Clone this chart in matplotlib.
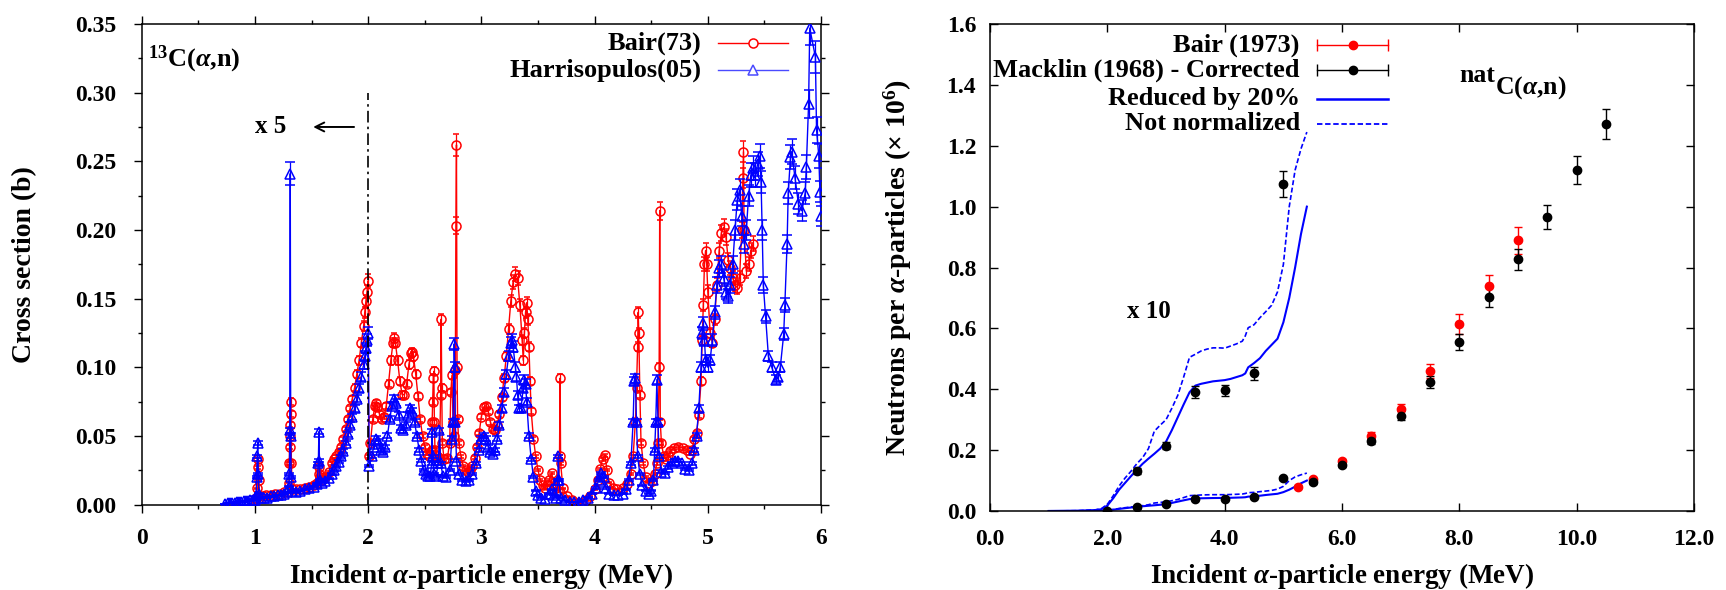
"""13C(a,n) cross section (left) and natC(a,n) neutron yield (right).

Values were read off the published figure by eye. Below 2 MeV the left
panel data are already shown multiplied by 5, as in the original.
"""
import matplotlib
matplotlib.use("Agg")
import matplotlib.pyplot as plt
from matplotlib.ticker import MultipleLocator, FormatStrFormatter

# --- left panel: 13C(a,n) cross section (b) ---------------------------------
bair_e = [
    1.00, 1.01, 1.02, 1.025, 1.03, 1.035, 1.04, 1.07, 1.10, 1.14,
    1.18, 1.22, 1.26, 1.29, 1.30, 1.303, 1.306, 1.309, 1.312, 1.315,
    1.318, 1.322, 1.33, 1.36, 1.40, 1.44, 1.48, 1.52, 1.55, 1.565,
    1.57, 1.575, 1.59, 1.62, 1.65, 1.68, 1.70, 1.72, 1.74, 1.76,
    1.78, 1.80, 1.82, 1.84, 1.86, 1.88, 1.90, 1.92, 1.94, 1.96,
    1.97, 1.98, 1.99, 2.00, 2.005, 2.02, 2.04, 2.06, 2.07, 2.08,
    2.10, 2.12, 2.14, 2.16, 2.18, 2.20, 2.22, 2.23, 2.24, 2.26,
    2.28, 2.30, 2.32, 2.34, 2.36, 2.38, 2.39, 2.40, 2.42, 2.44,
    2.46, 2.48, 2.50, 2.52, 2.54, 2.56, 2.565, 2.57, 2.575, 2.58,
    2.585, 2.59, 2.61, 2.63, 2.64, 2.645, 2.65, 2.655, 2.67, 2.70,
    2.72, 2.73, 2.74, 2.75, 2.76, 2.77, 2.775, 2.78, 2.785, 2.79,
    2.80, 2.82, 2.84, 2.86, 2.88, 2.90, 2.92, 2.94, 2.96, 2.98,
    3.00, 3.02, 3.04, 3.06, 3.08, 3.10, 3.12, 3.14, 3.16, 3.18,
    3.20, 3.22, 3.24, 3.26, 3.28, 3.30, 3.32, 3.34, 3.36, 3.37,
    3.38, 3.39, 3.40, 3.41, 3.42, 3.43, 3.44, 3.46, 3.48, 3.50,
    3.52, 3.54, 3.56, 3.58, 3.60, 3.62, 3.64, 3.66, 3.68, 3.69,
    3.695, 3.70, 3.72, 3.76, 3.80, 3.84, 3.88, 3.92, 3.96, 4.00,
    4.03, 4.05, 4.07, 4.09, 4.11, 4.13, 4.16, 4.20, 4.25, 4.29,
    4.32, 4.34, 4.36, 4.37, 4.38, 4.385, 4.39, 4.40, 4.41, 4.43,
    4.45, 4.48, 4.51, 4.53, 4.55, 4.56, 4.57, 4.575, 4.58, 4.59,
    4.61, 4.63, 4.65, 4.67, 4.70, 4.74, 4.78, 4.82, 4.84, 4.86,
    4.88, 4.90, 4.92, 4.94, 4.95, 4.96, 4.97, 4.98, 4.99, 5.00,
    5.02, 5.04, 5.06, 5.08, 5.10, 5.12, 5.14, 5.16, 5.18, 5.20,
    5.22, 5.24, 5.26, 5.28, 5.30, 5.31, 5.315, 5.32, 5.34, 5.36,
    5.38, 5.40,
]
bair_xs = [
    .004, .005, .012, .033, .027, .018, .006, .006, .007, .007,
    .008, .008, .009, .009, .016, .030, .042, .050, .058, .066,
    .075, .030, .011, .011, .011, .012, .013, .014, .016, .022,
    .027, .020, .018, .020, .024, .030, .033, .035, .038, .042,
    .048, .055, .062, .070, .077, .085, .095, .105, .118, .130,
    .140, .148, .155, .163, .035, .045, .062, .072, .074, .071,
    .066, .062, .064, .072, .088, .105, .118, .121, .118, .105,
    .090, .080, .080, .088, .102, .110, .111, .108, .095, .079,
    .062, .050, .042, .037, .035, .040, .060, .075, .092, .097,
    .060, .040, .035, .034, .080, .135, .085, .045, .033, .034,
    .045, .082, .094, .060, .050, .098, .203, .262, .100, .062,
    .045, .035, .028, .025, .024, .025, .028, .034, .042, .052,
    .064, .071, .072, .068, .060, .055, .054, .058, .066, .078,
    .092, .108, .128, .148, .162, .168, .165, .145, .120, .105,
    .125, .140, .147, .135, .115, .090, .068, .048, .035, .025,
    .018, .014, .012, .014, .018, .023, .016, .012, .010, .035,
    .092, .030, .012, .006, .003, .001, .001, .003, .006, .011,
    .018, .026, .033, .036, .025, .016, .012, .011, .012, .015,
    .022, .035, .060, .085, .115, .140, .125, .080, .045, .030,
    .020, .016, .017, .022, .030, .045, .100, .214, .060, .045,
    .035, .033, .036, .039, .041, .042, .041, .040, .037, .040,
    .048, .052, .065, .090, .120, .145, .175, .185, .175, .155,
    .125, .118, .135, .160, .185, .198, .202, .195, .178, .172,
    .165, .160, .158, .165, .200, .238, .257, .200, .170, .175,
    .185, .190,
]
harr_e = [
    0.74, 0.76, 0.78, 0.80, 0.82, 0.84, 0.86, 0.88, 0.90, 0.92,
    0.94, 0.96, 0.98, 1.00, 1.01, 1.015, 1.02, 1.025, 1.03, 1.035,
    1.05, 1.08, 1.11, 1.14, 1.17, 1.20, 1.23, 1.26, 1.28, 1.30,
    1.305, 1.308, 1.312, 1.316, 1.32, 1.33, 1.36, 1.40, 1.44, 1.48,
    1.52, 1.55, 1.56, 1.565, 1.57, 1.575, 1.59, 1.62, 1.65, 1.68,
    1.70, 1.72, 1.74, 1.76, 1.78, 1.80, 1.82, 1.84, 1.86, 1.88,
    1.90, 1.92, 1.94, 1.96, 1.97, 1.98, 1.99, 2.00, 2.01, 2.03,
    2.05, 2.07, 2.09, 2.11, 2.13, 2.15, 2.17, 2.19, 2.21, 2.23,
    2.25, 2.27, 2.29, 2.31, 2.33, 2.35, 2.37, 2.39, 2.41, 2.43,
    2.45, 2.47, 2.49, 2.51, 2.53, 2.55, 2.56, 2.565, 2.57, 2.58,
    2.60, 2.62, 2.63, 2.64, 2.66, 2.69, 2.72, 2.74, 2.75, 2.76,
    2.765, 2.77, 2.78, 2.80, 2.83, 2.86, 2.89, 2.92, 2.95, 2.98,
    3.00, 3.02, 3.04, 3.06, 3.08, 3.10, 3.12, 3.14, 3.16, 3.18,
    3.20, 3.22, 3.24, 3.26, 3.27, 3.28, 3.30, 3.31, 3.32, 3.33,
    3.35, 3.37, 3.38, 3.39, 3.40, 3.42, 3.44, 3.46, 3.48, 3.50,
    3.53, 3.56, 3.60, 3.62, 3.64, 3.66, 3.675, 3.68, 3.685, 3.70,
    3.74, 3.78, 3.82, 3.86, 3.90, 3.94, 3.98, 4.01, 4.04, 4.06,
    4.08, 4.10, 4.13, 4.17, 4.21, 4.25, 4.28, 4.30, 4.32, 4.34,
    4.35, 4.36, 4.37, 4.38, 4.40, 4.42, 4.45, 4.48, 4.50, 4.52,
    4.53, 4.54, 4.55, 4.56, 4.57, 4.59, 4.62, 4.65, 4.68, 4.71,
    4.74, 4.77, 4.80, 4.83, 4.86, 4.88, 4.90, 4.92, 4.94, 4.95,
    4.96, 4.97, 4.98, 5.00, 5.02, 5.04, 5.06, 5.08, 5.10, 5.12,
    5.14, 5.16, 5.18, 5.20, 5.22, 5.24, 5.26, 5.28, 5.30, 5.32,
    5.34, 5.36, 5.38, 5.40, 5.42, 5.44, 5.46, 5.47, 5.48, 5.49,
    5.51, 5.535, 5.565, 5.60, 5.62, 5.64, 5.67, 5.68, 5.70, 5.71,
    5.73, 5.74, 5.77, 5.80, 5.83, 5.86, 5.87, 5.89, 5.90, 5.95,
    5.96, 5.98, 5.99, 6.00,
]
harr_xs = [
    .0005, .0008, .0010, .0012, .0014, .0016, .0018, .0020, .0022, .0025,
    .0028, .0030, .0033, .0036, .006, .020, .035, .045, .022, .008,
    .005, .005, .005, .006, .006, .007, .007, .008, .009, .013,
    .022, .054, .241, .050, .020, .010, .009, .010, .011, .012,
    .013, .015, .030, .053, .032, .018, .016, .017, .019, .022,
    .025, .028, .031, .035, .039, .045, .051, .058, .064, .070,
    .077, .085, .093, .102, .108, .114, .120, .125, .028, .035,
    .042, .048, .046, .040, .038, .042, .050, .062, .072, .077,
    .074, .065, .056, .054, .058, .065, .070, .068, .060, .050,
    .040, .032, .025, .022, .021, .021, .030, .053, .035, .022,
    .021, .030, .054, .030, .021, .020, .025, .048, .060, .117,
    .100, .060, .032, .022, .018, .017, .018, .022, .030, .040,
    .048, .050, .048, .042, .038, .037, .040, .048, .058, .070,
    .082, .095, .108, .118, .120, .115, .100, .093, .080, .070,
    .070, .085, .091, .088, .075, .050, .033, .020, .010, .007,
    .005, .004, .008, .011, .007, .005, .018, .035, .018, .005,
    .003, .002, .002, .002, .003, .005, .008, .012, .018, .023,
    .020, .012, .008, .007, .007, .008, .011, .018, .030, .060,
    .090, .092, .060, .035, .022, .014, .010, .008, .010, .018,
    .040, .060, .091, .060, .035, .024, .023, .027, .030, .032,
    .032, .030, .026, .025, .030, .040, .050, .070, .100, .125,
    .132, .120, .105, .100, .105, .120, .140, .160, .172, .175,
    .165, .155, .152, .160, .175, .200, .222, .229, .210, .190,
    .200, .225, .240, .245, .240, .248, .254, .235, .200, .160,
    .137, .108, .100, .091, .093, .100, .124, .145, .190, .227,
    .253, .257, .238, .219, .214, .227, .246, .292, .347, .326,
    .273, .254, .228, .210,
]
bair_rel_err = 0.03     # relative error bar size
harr_rel_err = 0.035

# --- right panel: natC(a,n) neutrons per alpha (x 1e6) ----------------------
bair73_e = [5.25, 5.5, 6.0, 6.5, 7.0, 7.5, 8.0, 8.5, 9.0]
bair73_n = [0.080, 0.105, 0.164, 0.247, 0.334, 0.460, 0.613, 0.739, 0.890]
bair73_err = [0.004, 0.005, 0.008, 0.012, 0.017, 0.022, 0.033, 0.037, 0.044]

macklin_e = [2.0, 2.5, 3.0, 3.5, 4.0, 4.5, 5.0, 5.5, 6.0,
             6.5, 7.0, 7.5, 8.0, 8.5, 9.0, 9.5, 10.0, 10.5]
macklin_n = [0.0, 0.0131, 0.0215, 0.0392, 0.0396, 0.0452, 0.1074, 0.095, 0.150,
             0.230, 0.313, 0.424, 0.555, 0.704, 0.827, 0.967, 1.120, 1.272]
macklin_err = [0.0005, 0.001, 0.0012, 0.002, 0.0017, 0.0022, 0.0043, 0.005, 0.007,
               0.010, 0.015, 0.020, 0.025, 0.033, 0.035, 0.040, 0.045, 0.050]

# calculated yields, as drawn in the "x 10" copy
calc_e = [1.0, 1.5, 1.8, 1.9, 2.0, 2.1, 2.2, 2.3, 2.4, 2.5,
          2.6, 2.7, 2.8, 2.9, 3.0, 3.1, 3.2, 3.3, 3.4, 3.5,
          3.6, 3.7, 3.8, 3.9, 4.0, 4.1, 4.2, 4.3, 4.35, 4.4,
          4.5, 4.6, 4.7, 4.8, 4.9, 5.0, 5.1, 5.2, 5.3, 5.4]
reduced_x10 = [0.0, 0.001, 0.003, 0.006, 0.018, 0.042, 0.070, 0.092, 0.114, 0.135,
               0.155, 0.172, 0.188, 0.205, 0.228, 0.266, 0.308, 0.350, 0.390, 0.412,
               0.418, 0.422, 0.426, 0.428, 0.430, 0.434, 0.440, 0.446, 0.452, 0.472,
               0.486, 0.502, 0.526, 0.546, 0.566, 0.620, 0.700, 0.800, 0.910, 1.000]
notnorm_x10 = [0.0, 0.001, 0.004, 0.008, 0.022, 0.050, 0.082, 0.108, 0.130, 0.155,
               0.175, 0.205, 0.262, 0.282, 0.300, 0.338, 0.380, 0.440, 0.505, 0.515,
               0.526, 0.532, 0.536, 0.536, 0.535, 0.542, 0.549, 0.558, 0.575, 0.602,
               0.612, 0.635, 0.655, 0.676, 0.720, 0.810, 1.000, 1.120, 1.190, 1.245]
SCALE = 10


plt.rcParams.update({
    "font.family": ["Liberation Serif", "DejaVu Serif"],
    "font.weight": "bold",
    "axes.labelweight": "bold",
    "mathtext.fontset": "custom",
    "mathtext.rm": "Liberation Serif",
    "mathtext.it": "Liberation Serif:italic",
    "mathtext.bf": "Liberation Serif:bold",
    "axes.linewidth": 1.1,
})

fig = plt.figure(figsize=(17.26, 5.90), dpi=100)
ax1 = fig.add_axes([0.0821, 0.1449, 0.3936, 0.8144])
ax2 = fig.add_axes([0.5736, 0.1339, 0.4079, 0.8254])

# ---- left panel ----
ax1.errorbar(bair_e, bair_xs, yerr=[v * bair_rel_err for v in bair_xs],
             fmt="-o", color="red", mfc="none", ms=6.5, mew=1.1, lw=1.0,
             elinewidth=0.9, capsize=2.5, capthick=0.9, zorder=2)
ax1.errorbar(harr_e, harr_xs, yerr=[v * harr_rel_err for v in harr_xs],
             fmt="-^", color="blue", mfc="none", ms=6.5, mew=1.1, lw=1.0,
             elinewidth=0.9, capsize=3.5, capthick=0.9, zorder=3)

ax1.vlines(2.0, 0, 0.30, colors="black", lw=1.2, linestyles=[(0, (7, 2.5, 1.5, 2.5))], zorder=4)
ax1.annotate("", xy=(1.49, 0.275), xytext=(1.90, 0.275),
             arrowprops=dict(arrowstyle="->", lw=1.4, color="black", mutation_scale=16))
ax1.text(1.135, 0.275, "x 5", fontsize=18, ha="center", va="center")
ax1.text(0.056, 0.319, r"$^{13}$C($\alpha$,n)", fontsize=19, va="baseline")

ax1.set_xlim(0, 6)
ax1.set_ylim(0, 0.35)
ax1.xaxis.set_major_locator(MultipleLocator(1))
ax1.xaxis.set_minor_locator(MultipleLocator(0.5))
ax1.yaxis.set_major_locator(MultipleLocator(0.05))
ax1.yaxis.set_minor_locator(MultipleLocator(0.025))
ax1.yaxis.set_major_formatter(FormatStrFormatter("%.2f"))
ax1.tick_params(which="both", direction="out", top=True, right=True, labelsize=17, width=1.0)
ax1.tick_params(which="major", length=6)
ax1.tick_params(which="minor", length=3)
ax1.tick_params(axis="y", pad=12)
ax1.tick_params(axis="x", pad=11)
ax1.set_xlabel(r"Incident $\alpha$-particle energy (MeV)", fontsize=19.5)
ax1.xaxis.set_label_coords(0.5, -0.118)
ax1.set_ylabel("Cross section (b)", fontsize=20)
ax1.yaxis.label.set_verticalalignment("center")
ax1.yaxis.set_label_coords(-0.172, 0.5)

# hand-drawn legend, gnuplot style
tr1 = ax1.transAxes
for label, color, marker, y in [("Bair(73)", "red", "o", 0.960),
                                ("Harrisopulos(05)", "#4a4aff", "^", 0.904)]:
    ax1.text(0.824, y, label, transform=tr1, fontsize=19, ha="right", va="center")
    ax1.plot([0.848, 0.951], [y, y], transform=tr1, color=color, lw=1.0, clip_on=False)
    ax1.plot([0.900], [y], transform=tr1, marker=marker, color=color, mfc="white",
             ms=6.5, mew=1.1, clip_on=False)

# ---- right panel ----
ax2.plot(calc_e, [v / SCALE for v in reduced_x10], color="blue", lw=1.5)
ax2.plot(calc_e, [v / SCALE for v in notnorm_x10], color="blue", lw=1.2, ls=(0, (3, 1.5)))
ax2.plot(calc_e, reduced_x10, color="blue", lw=1.5)
ax2.plot(calc_e, notnorm_x10, color="blue", lw=1.2, ls=(0, (3, 1.5)))

ax2.errorbar(bair73_e, bair73_n, yerr=bair73_err, fmt="o", color="red", ms=6,
             elinewidth=1.0, capsize=3, capthick=1.0)
ax2.errorbar(macklin_e, macklin_n, yerr=macklin_err, fmt="o", color="black", ms=6,
             elinewidth=1.0, capsize=3, capthick=1.0)
zoom_idx = [i for i, e in enumerate(macklin_e) if 2.0 < e <= 5.0]
ax2.errorbar([macklin_e[i] for i in zoom_idx],
             [macklin_n[i] * SCALE for i in zoom_idx],
             yerr=[macklin_err[i] * SCALE for i in zoom_idx],
             fmt="o", color="black", ms=6, elinewidth=1.0, capsize=3, capthick=1.0)

ax2.text(2.71, 0.654, "x 10", fontsize=18, ha="center", va="center")
ax2.text(8.0, 1.409, "nat", fontsize=18.5, va="baseline")
ax2.text(8.6, 1.373, r"C($\alpha$,n)", fontsize=18.5, va="baseline")

ax2.set_xlim(0, 12)
ax2.set_ylim(0, 1.6)
ax2.xaxis.set_major_locator(MultipleLocator(2))
ax2.yaxis.set_major_locator(MultipleLocator(0.2))
ax2.xaxis.set_major_formatter(FormatStrFormatter("%.1f"))
ax2.yaxis.set_major_formatter(FormatStrFormatter("%.1f"))
ax2.tick_params(which="major", direction="in", top=True, right=True, length=6,
                width=1.0, labelsize=17)
ax2.tick_params(axis="y", pad=10)
ax2.tick_params(axis="x", pad=13)
ax2.set_xlabel(r"Incident $\alpha$-particle energy (MeV)", fontsize=19.5)
ax2.xaxis.set_label_coords(0.5, -0.103)
ax2.set_ylabel(r"Neutrons per $\alpha$-particles ($\times$ 10$^{6}$)", fontsize=20)
ax2.yaxis.label.set_verticalalignment("center")
ax2.yaxis.set_label_coords(-0.131, 0.5)

tr2 = ax2.transAxes
for label, color, y in [("Bair (1973)", "red", 0.957),
                        ("Macklin (1968) - Corrected", "black", 0.905)]:
    ax2.text(0.440, y, label, transform=tr2, fontsize=19, ha="right", va="center")
    ax2.plot([0.4645, 0.565], [y, y], transform=tr2, color=color, lw=1.0,
             marker="|", ms=8, mew=1.0, clip_on=False)
    ax2.plot([0.515], [y], transform=tr2, marker="o", color=color, ms=6, clip_on=False)
for label, ls, lw, y in [("Reduced by 20%", "-", 1.8, 0.847),
                         ("Not normalized", (0, (3, 1.5)), 1.3, 0.795)]:
    ax2.text(0.440, y, label, transform=tr2, fontsize=19, ha="right", va="center")
    ax2.plot([0.4645, 0.565], [y, y], transform=tr2, color="blue", lw=lw, ls=ls,
             clip_on=False)

fig.savefig("out.png", dpi=100)
